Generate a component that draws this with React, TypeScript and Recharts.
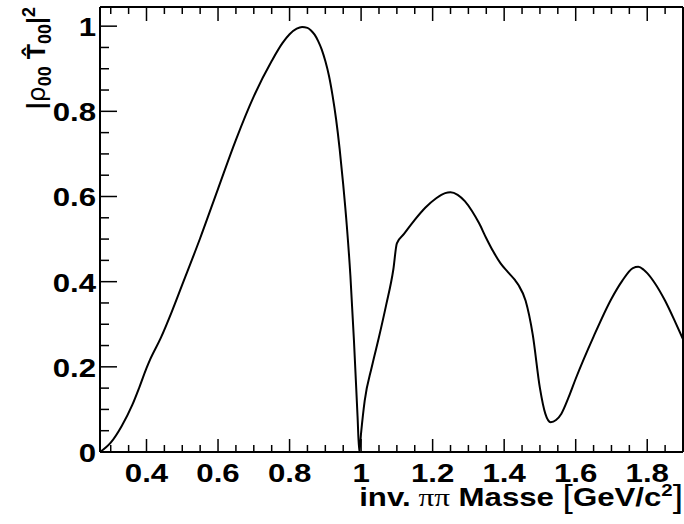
import { LineChart, Line, XAxis, YAxis, Label } from "recharts";

// invariant pi-pi mass (GeV/c^2) and |rho00 T00|^2
const massValues = [
  0.27, 0.3, 0.33, 0.36, 0.38, 0.4, 0.41, 0.44, 0.47, 0.5, 0.55, 0.6, 0.65,
  0.7, 0.75, 0.78, 0.8, 0.82, 0.835, 0.85, 0.86, 0.87, 0.88, 0.89, 0.9, 0.91,
  0.92, 0.93, 0.94, 0.95, 0.96, 0.97, 0.98, 0.99, 0.995, 1.0, 1.01, 1.03,
  1.05, 1.07, 1.09, 1.1, 1.12, 1.15, 1.18, 1.21, 1.235, 1.25, 1.27, 1.29,
  1.31, 1.33, 1.35, 1.37, 1.39, 1.41, 1.43, 1.44, 1.46, 1.48, 1.5, 1.515,
  1.53, 1.545, 1.56, 1.58, 1.6, 1.65, 1.7, 1.73, 1.76, 1.775, 1.79, 1.8, 1.82,
  1.85, 1.88, 1.9,
];
const ampValues = [
  0, 0.022, 0.06, 0.11, 0.152, 0.197, 0.217, 0.268, 0.328, 0.393, 0.502,
  0.618, 0.733, 0.835, 0.918, 0.96, 0.981, 0.994, 0.998, 0.996, 0.99, 0.98,
  0.965, 0.945, 0.918, 0.884, 0.838, 0.782, 0.712, 0.628, 0.532, 0.415, 0.262,
  0.085, 0, 0.045, 0.12, 0.2, 0.27, 0.345, 0.428, 0.49, 0.512, 0.545, 0.574,
  0.596, 0.608, 0.61, 0.604, 0.589, 0.566, 0.537, 0.502, 0.47, 0.443, 0.423,
  0.404, 0.392, 0.355, 0.275, 0.15, 0.09, 0.07, 0.075, 0.09, 0.128, 0.172,
  0.271, 0.36, 0.402, 0.432, 0.435, 0.428, 0.42, 0.398, 0.355, 0.302, 0.265,
];

const xTicks = [
  0.3, 0.35, 0.4, 0.45, 0.5, 0.55, 0.6, 0.65, 0.7, 0.75, 0.8, 0.85, 0.9, 0.95,
  1.0, 1.05, 1.1, 1.15, 1.2, 1.25, 1.3, 1.35, 1.4, 1.45, 1.5, 1.55, 1.6, 1.65,
  1.7, 1.75, 1.8, 1.85,
];
const yTicks = [
  0, 0.05, 0.1, 0.15, 0.2, 0.25, 0.3, 0.35, 0.4, 0.45, 0.5, 0.55, 0.6, 0.65,
  0.7, 0.75, 0.8, 0.85, 0.9, 0.95, 1.0,
];

const data = massValues.map((m, i) => ({ m, a: ampValues[i] }));
// end points only, for the frame/tick layer
const frameData = [data[0], data[data.length - 1]];

// the chart is drawn 23px higher and 29px wider than the frame, then cropped
const SHIFT = 23;
const W = 713;
const H = 524 + SHIFT;
const FONT = "'Liberation Sans', Arial, Helvetica, sans-serif";
const isMajor = (v: number) => Math.abs(v * 5 - Math.round(v * 5)) < 1e-6;
const fmt = (v: number) => String(Math.round(v * 10) / 10);

const labelStyle = {
  fontFamily: FONT,
  fontWeight: "bold" as const,
  fontSize: 26,
  fill: "black",
};

// tick labels (main chart)
const BottomLabel = (props: any) => {
  const { x, y, payload } = props;
  if (!isMajor(payload.value)) return <g />;
  return (
    <text transform={`translate(${x},${y + 30}) scale(1.2,1)`} textAnchor="middle" {...labelStyle}>
      {fmt(payload.value)}
    </text>
  );
};

const LeftLabel = (props: any) => {
  const { x, y, payload } = props;
  if (!isMajor(payload.value)) return <g />;
  return (
    <text transform={`translate(${x - 4},${y + 10}) scale(1.2,1)`} textAnchor="end" {...labelStyle}>
      {fmt(payload.value)}
    </text>
  );
};

// tick marks (frame layer), pointing into the plot
const BottomMark = (props: any) => {
  const { x, y, payload } = props;
  const len = isMajor(payload.value) ? 13 : 7;
  return <path d={`M${x},${y}V${y - len}`} stroke="black" strokeWidth={1.5} />;
};

const TopMark = (props: any) => {
  const { x, y, payload } = props;
  const len = isMajor(payload.value) ? 14 : 7;
  return <path d={`M${x},${y}V${y + len}`} stroke="black" strokeWidth={1.5} />;
};

const LeftMark = (props: any) => {
  const { x, y, payload } = props;
  const len = isMajor(payload.value) ? 17 : 9;
  return <path d={`M${x},${y}H${x + len}`} stroke="black" strokeWidth={1.5} />;
};

const RightMark = (props: any) => {
  const { x, y, payload } = props;
  const len = isMajor(payload.value) ? 15 : 8;
  return <path d={`M${x},${y}H${x - len}`} stroke="black" strokeWidth={1.5} />;
};

const XTitle = () => (
  <text
    transform={`translate(683,${506 + SHIFT}) scale(1.2,1)`}
    textAnchor="end"
    fontFamily={FONT}
    fontWeight="bold"
    fontSize={26}
  >
    inv.
    <tspan fontFamily="'Liberation Serif', 'Times New Roman', serif" fontWeight="normal"> ππ</tspan>
    <tspan> Masse </tspan>
    <tspan fontWeight="normal" fontSize={31} dy={1}>[</tspan>
    <tspan dy={-1}>GeV/c</tspan>
    <tspan dy={-10} fontSize={17}>2</tspan>
    <tspan dy={11} fontWeight="normal" fontSize={31}>]</tspan>
  </text>
);

const YTitle = () => (
  <text
    transform="rotate(-90)"
    x={-(7 + SHIFT)}
    y={45}
    textAnchor="end"
    fontFamily={FONT}
    fontWeight="bold"
    fontSize={25}
  >
    |<tspan fontWeight="normal" fontFamily="'DejaVu Sans', sans-serif">ρ</tspan>
    <tspan dy={6} fontSize={18}>00</tspan>
    <tspan dy={-6}> T̂</tspan>
    <tspan dy={6} fontSize={18}>00</tspan>
    <tspan dy={-6}>|</tspan>
    <tspan dy={-10} fontSize={18}>2</tspan>
  </text>
);

const frame = { stroke: "black", strokeWidth: 2 };
const noMargin = { top: 0, right: 0, bottom: 0, left: 0 };

const axes = (bottomTick: any, topTick: any, leftTick: any, rightTick: any, withTitles: boolean) => [
  <XAxis
    key="b"
    dataKey="m"
    type="number"
    domain={[0.27, 1.9]}
    ticks={xTicks}
    interval={0}
    tick={bottomTick}
    tickLine={false}
    tickSize={0}
    tickMargin={0}
    height={72}
    axisLine={frame}
  >
    {withTitles && <Label content={XTitle} />}
  </XAxis>,
  <XAxis
    key="t"
    xAxisId="top"
    orientation="top"
    dataKey="m"
    type="number"
    domain={[0.27, 1.9]}
    ticks={xTicks}
    interval={0}
    tick={topTick}
    tickLine={false}
    tickSize={0}
    tickMargin={0}
    height={30}
    axisLine={frame}
  />,
  <YAxis
    key="l"
    type="number"
    domain={[0, 1.045]}
    ticks={yTicks}
    interval={0}
    tick={leftTick}
    tickLine={false}
    tickSize={0}
    tickMargin={0}
    width={100}
    axisLine={frame}
  >
    {withTitles && <Label content={YTitle} />}
  </YAxis>,
  <YAxis
    key="r"
    yAxisId="right"
    orientation="right"
    type="number"
    domain={[0, 1.045]}
    ticks={yTicks}
    interval={0}
    tick={rightTick}
    tickLine={false}
    tickSize={0}
    tickMargin={0}
    width={30}
    axisLine={frame}
  />,
];

export default function App() {
  return (
    <div
      style={{
        position: "absolute",
        left: 0,
        top: 0,
        width: 684,
        height: 524,
        overflow: "hidden",
        background: "#fff",
      }}
    >
      <div style={{ position: "absolute", left: 0, top: -SHIFT }}>
        <LineChart width={W} height={H} data={data} margin={noMargin}>
          {axes(BottomLabel, false, LeftLabel, false, true)}
          <Line
            dataKey="a"
            type="monotone"
            stroke="#000"
            strokeWidth={2}
            dot={false}
            isAnimationActive={false}
          />
        </LineChart>
      </div>
      <div style={{ position: "absolute", left: 0, top: -SHIFT, pointerEvents: "none" }}>
        <LineChart width={W} height={H} data={frameData} margin={noMargin}>
          {axes(BottomMark, TopMark, LeftMark, RightMark, false)}
          <Line dataKey="a" stroke="none" dot={false} isAnimationActive={false} />
        </LineChart>
      </div>
    </div>
  );
}
